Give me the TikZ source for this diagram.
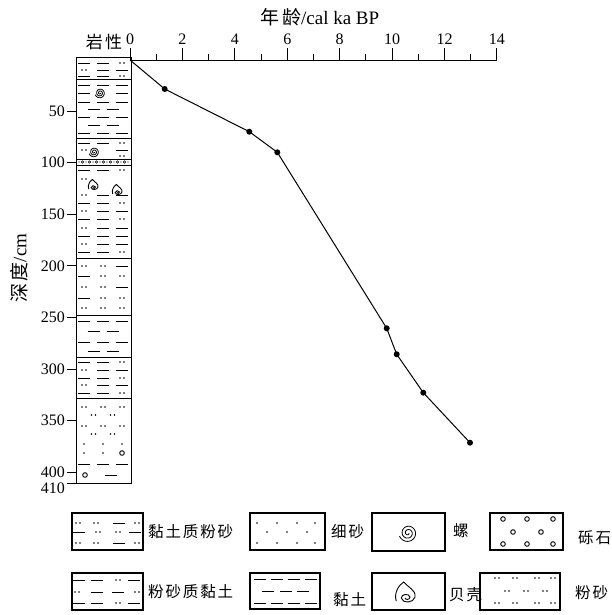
\documentclass[tikz,border=0pt]{standalone}
\usepackage{fontspec}
\setmainfont{Liberation Serif}
\newfontfamily\cjk[LetterSpace=12]{Noto Sans CJK SC}
\newcommand\lyd[2]{\draw[pat] ({#1-6},#2) -- ({#1+6},#2);}
\newcommand\lyp[2]{\fill ({#1-2},#2) circle (0.8) ({#1+2},#2) circle (0.8);}
\newcommand\lys[2]{\fill (#1,#2) circle (0.8);}
\newcommand\lyo[2]{\draw[pat] (#1,#2) circle (2.3);}
\newcommand\lyn[2]{}
\newcommand\lyitem[3]{\csname ly#3\endcsname{#1}{#2}}
\newcommand\lyrow[4]{\lyitem{84}{#1}{#2}\lyitem{103}{#1}{#3}\lyitem{122}{#1}{#4}}
\newcommand\lyrowb[3]{\lyitem{93.5}{#1}{#2}\lyitem{112.5}{#1}{#3}}
\begin{document}
\begin{tikzpicture}[x=1bp,y=-1bp,
  pat/.style={line width=0.9bp},
  tick/.style={line width=0.9bp},
  numlab/.style={inner sep=0pt,font=\fontsize{16bp}{16bp}\selectfont},
  leglab/.style={inner sep=0pt,anchor=west,font=\fontsize{15.5bp}{15.5bp}\selectfont\cjk},
  legbox/.style={line width=1.2bp},
  snail/.pic={\draw[line width=0.8bp] plot[domain=0:880,samples=90,smooth,variable=\t]
      ({(0.8+\t/125)*cos(\t)},{(0.8+\t/125)*sin(\t)});},
  shell/.pic={\draw[line width=0.9bp,xscale=1.25] (-7,8) .. controls (-9,0) and (-5,-8) .. (-1,-11)
      .. controls (2,-6) and (9,-3) .. (8,4) .. controls (7,10) and (-2,11) .. (-3,5)
      .. controls (-3,1) and (3,0) .. (4,4) .. controls (4,7) and (0,7) .. (0,5);}
]
\useasboundingbox (0,0) rectangle (612,615);
% titles
\node[inner sep=0pt] (xtitle) at (320,17) {\fontsize{19bp}{19bp}\selectfont{\cjk 年龄}/cal ka BP};
\node[inner sep=0pt] (lith) at (104,42) {\fontsize{17bp}{17bp}\selectfont\cjk 岩性};
\node[inner sep=0pt,rotate=90] (ytitle) at (19,268) {\fontsize{19bp}{19bp}\selectfont{\cjk 深度}/cm};
% top axis
\coordinate (ax0) at (130,60);
\coordinate (ax1) at (497,60);
\draw[tick] (ax0) -- (ax1);
\foreach \a in {0,...,14}{
  \pgfmathsetmacro\xx{130+26.21*\a}
  \ifodd\a
    \draw[tick] (\xx,60) -- (\xx,54);
  \else
    \draw[tick] (\xx,60) -- (\xx,48);
    \node[numlab] (xl\a) at (\xx,39) {\a};
  \fi
}
% depth axis ticks and labels
\foreach \d in {50,100,...,400}{
  \pgfmathsetmacro\yy{59.5+1.032*\d}
  \draw[tick] (67,\yy) -- (76,\yy);
  \node[numlab,anchor=east] (yl\d) at (65,\yy) {\d};
}
\draw[tick] (67,483) -- (76,483);
\node[numlab,anchor=east] (yl410) at (65,488) {410};
% lithology column
\draw[line width=1bp] (76,58) rectangle (131,483);
\foreach \y in {79,138,159,165,258,315,357,398} \draw[line width=0.9bp] (76,\y) -- (131,\y);
% L1
\lyrow{63}{d}{d}{p}\lyrow{70}{p}{d}{d}\lyrow{76}{d}{d}{p}
% L2
\lyrow{85}{d}{d}{d}\lyrow{93}{d}{n}{d}\lyrow{102}{d}{d}{d}\lyrowb{109}{d}{d}
\lyrow{117}{d}{d}{d}\lyrowb{125}{d}{d}\lyrow{133}{d}{d}{d}
\pic[scale=0.65] at (100,93) {snail};
% L3
\lyrow{143}{d}{d}{p}\lyrow{150}{p}{n}{d}\lyrow{156}{n}{n}{p}
\pic[scale=0.65] at (94,152) {snail};
% thin band
\foreach \x in {79,86,...,128} \fill (\x,162) circle (0.6);
\foreach \x in {82.5,89.5,...,128} \draw[line width=0.5bp] (\x,162) circle (1.2);
% L4
\lyrow{170}{d}{d}{p}\lyrow{179}{p}{n}{n}\lyrow{195}{p}{d}{d}\lyrow{203}{d}{d}{p}
\lyrow{211}{p}{d}{d}\lyrow{219}{d}{d}{p}\lyrow{228}{p}{d}{d}\lyrow{236}{d}{d}{d}
\lyrow{244}{p}{d}{d}\lyrow{252}{d}{d}{p}
\pic[scale=0.5] at (93,185) {shell};
\pic[scale=0.5] at (117,190) {shell};
% L5
\lyrow{266}{p}{p}{d}\lyrow{276}{d}{p}{p}\lyrow{287}{p}{p}{d}\lyrow{298}{d}{p}{p}\lyrow{308}{p}{p}{p}
% L6
\lyrow{321}{d}{d}{d}\lyrowb{331}{d}{d}\lyrow{342}{d}{d}{d}\lyrowb{351}{d}{d}
% L7
\lyrow{362}{d}{d}{p}\lyrow{370}{p}{d}{d}\lyrow{378}{d}{d}{p}\lyrow{385}{p}{d}{d}\lyrow{393}{d}{d}{p}
% L8
\lyrow{407}{p}{p}{p}\lyrowb{415}{p}{p}\lyrow{426}{p}{p}{p}\lyrowb{434}{p}{p}
\lyrow{444}{s}{s}{s}\lyrow{453}{s}{s}{o}\lyrow{464}{d}{d}{d}
\lyo{85}{475}\lyd{111}{475}
% age-depth curve
\coordinate (p0) at (130,60);
\coordinate (p1) at (164.7,89);
\coordinate (p2) at (249.3,131.7);
\coordinate (p3) at (277.3,152.3);
\coordinate (p4) at (386.7,328.3);
\coordinate (p5) at (396.7,354.3);
\coordinate (p6) at (423.3,392.7);
\coordinate (p7) at (470,442.7);
\draw[line width=1bp] (p0) -- (p1) -- (p2) -- (p3) -- (p4) -- (p5) -- (p6) -- (p7);
\foreach \p in {p1,p2,p3,p4,p5,p6,p7} \fill (\p) circle (3);
% legend row 1
\draw[legbox] (72,513) rectangle (143,550);
\lyitem{78}{523}{p}\lyitem{96}{523}{p}\lyitem{119}{523}{d}\lyitem{137}{523}{p}
\lyitem{79}{532}{d}\lyitem{98}{532}{p}\lyitem{118}{532}{p}\lyitem{135}{532}{d}
\lyitem{78}{543}{p}\lyitem{96}{543}{p}\lyitem{119}{543}{d}\lyitem{137}{543}{p}
\node[leglab] (lg1) at (148,532) {黏土质粉砂};
\draw[legbox] (250,513) rectangle (325,550);
\foreach \x in {257,277,297,315}{\lys{\x}{523}\lys{\x}{543}}
\foreach \x in {267,287,307}{\lys{\x}{532}}
\node[leglab] (lg2) at (331,532) {细砂};
\draw[legbox] (372,513) rectangle (445,551);
\pic[scale=1.15] at (408,533) {snail};
\node[leglab] (lg3) at (453,531) {螺};
\draw[legbox] (490,513) rectangle (563,550);
\foreach \x in {503,527,553}{\lyo{\x}{519}\lyo{\x}{544}}
\foreach \x in {513,541}{\lyo{\x}{532}}
\node[leglab] (lg4) at (578,538) {砾石};
% legend row 2
\draw[legbox] (72,573) rectangle (143,610);
\lyitem{79}{580}{d}\lyitem{97}{580}{d}\lyitem{118}{580}{p}\lyitem{134}{580}{d}
\lyitem{77}{592}{p}\lyitem{97}{592}{d}\lyitem{118}{592}{d}\lyitem{137}{592}{p}
\lyitem{79}{603}{d}\lyitem{97}{603}{d}\lyitem{118}{603}{p}\lyitem{134}{603}{d}
\node[leglab] (lg5) at (148,592) {粉砂质黏土};
\draw[legbox] (250,573) rectangle (320,609);
\foreach \x in {260,277,294,311}{\lyd{\x}{579}\lyd{\x}{603}}
\foreach \x in {268,286,303}{\lyd{\x}{591}}
\node[leglab] (lg6) at (333,600) {黏土};
\draw[legbox] (372,573) rectangle (445,610);
\pic at (405,593) {shell};
\node[leglab] (lg7) at (449,595) {贝壳};
\draw[legbox] (480,573) rectangle (560,610);
\foreach \x in {497,515,537,553}{\lyp{\x}{578}\lyp{\x}{603}}
\foreach \x in {507,526,545}{\lyp{\x}{591}}
\node[leglab] (lg8) at (575,593) {粉砂};
\end{tikzpicture}
\end{document}
